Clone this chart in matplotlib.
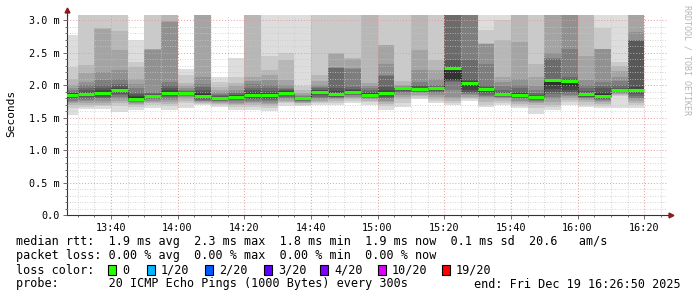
import matplotlib
matplotlib.use("Agg")
import matplotlib.pyplot as plt
from matplotlib.ticker import MultipleLocator, FixedLocator
from matplotlib.patches import Rectangle
import pandas as pd

# --- data (ms) ---
graph_end = pd.Timestamp("2025-12-19 16:26:50")
graph_start = graph_end - pd.Timedelta(hours=3)
bar_starts = pd.date_range("2025-12-19 13:25", "2025-12-19 16:15", freq="5min")
bar_minutes = 5

median_ms = [1.846, 1.857, 1.87, 1.93, 1.79, 1.83, 1.877, 1.877, 1.83, 1.80,
             1.815, 1.846, 1.846, 1.877, 1.80, 1.89, 1.866, 1.89, 1.85, 1.87,
             1.95, 1.94, 1.95, 2.26, 2.035, 1.94, 1.86, 1.846, 1.815, 2.07,
             2.06, 1.857, 1.83, 1.92, 1.93]

# 20 sorted ping rtts per 5 minute step, 3.2 = off the top of the graph
smoke_ms = [
    [1.54, 1.65, 1.70, 1.72, 1.74, 1.76, 1.78, 1.80, 1.82, 1.84, 1.86, 1.87, 1.88, 1.90, 1.92, 1.95, 2.00, 2.10, 2.28, 2.77],
    [1.63, 1.66, 1.69, 1.72, 1.75, 1.77, 1.79, 1.81, 1.83, 1.85, 1.87, 1.90, 1.93, 1.96, 2.00, 2.05, 2.18, 2.31, 3.2, 3.2],
    [1.63, 1.67, 1.70, 1.73, 1.76, 1.78, 1.80, 1.82, 1.84, 1.86, 1.89, 1.92, 1.95, 2.00, 2.08, 2.20, 2.86, 2.87, 3.2, 3.2],
    [1.59, 1.67, 1.72, 1.76, 1.79, 1.82, 1.84, 1.86, 1.89, 1.92, 1.94, 1.96, 1.99, 2.02, 2.10, 2.23, 2.54, 2.83, 3.2, 3.2],
    [1.615, 1.66, 1.69, 1.71, 1.73, 1.74, 1.75, 1.76, 1.77, 1.78, 1.81, 1.83, 1.86, 1.90, 1.96, 2.02, 2.10, 2.27, 2.36, 2.70],
    [1.65, 1.70, 1.72, 1.74, 1.76, 1.78, 1.79, 1.80, 1.81, 1.82, 1.84, 1.85, 1.86, 1.88, 1.90, 2.54, 2.55, 2.56, 3.2, 3.2],
    [1.615, 1.67, 1.71, 1.74, 1.77, 1.79, 1.81, 1.83, 1.85, 1.87, 1.89, 1.92, 1.95, 2.00, 2.05, 2.97, 2.98, 3.2, 3.2, 3.2],
    [1.65, 1.72, 1.76, 1.79, 1.81, 1.83, 1.84, 1.85, 1.86, 1.87, 1.885, 1.89, 1.90, 1.91, 1.93, 1.95, 1.98, 2.03, 2.16, 2.24],
    [1.69, 1.71, 1.72, 1.74, 1.75, 1.76, 1.77, 1.78, 1.80, 1.82, 1.86, 1.89, 1.93, 1.97, 2.02, 2.13, 3.2, 3.2, 3.2, 3.2],
    [1.66, 1.69, 1.71, 1.72, 1.74, 1.75, 1.76, 1.77, 1.78, 1.79, 1.81, 1.82, 1.83, 1.84, 1.86, 1.89, 1.92, 1.97, 2.05, 2.13],
    [1.615, 1.66, 1.69, 1.71, 1.73, 1.75, 1.77, 1.78, 1.79, 1.80, 1.82, 1.84, 1.85, 1.87, 1.90, 1.93, 1.98, 2.03, 2.13, 2.41],
    [1.615, 1.66, 1.69, 1.72, 1.74, 1.76, 1.78, 1.79, 1.81, 1.83, 1.86, 1.89, 1.92, 1.96, 2.02, 2.06, 2.13, 3.2, 3.2, 3.2],
    [1.60, 1.65, 1.68, 1.71, 1.73, 1.75, 1.77, 1.79, 1.81, 1.83, 1.86, 1.88, 1.91, 1.95, 2.00, 2.08, 2.15, 2.23, 2.44, 3.2],
    [1.68, 1.72, 1.74, 1.76, 1.78, 1.80, 1.82, 1.84, 1.86, 1.88, 1.90, 1.91, 1.92, 1.94, 1.96, 2.00, 2.08, 2.38, 2.49, 3.2],
    [1.68, 1.70, 1.72, 1.73, 1.74, 1.75, 1.76, 1.77, 1.78, 1.79, 1.795, 1.80, 1.81, 1.82, 1.83, 1.85, 1.88, 1.92, 1.98, 3.2],
    [1.69, 1.72, 1.74, 1.76, 1.78, 1.80, 1.82, 1.84, 1.86, 1.88, 1.90, 1.92, 1.93, 1.95, 1.97, 2.00, 2.06, 2.15, 3.2, 3.2],
    [1.69, 1.73, 1.76, 1.78, 1.79, 1.80, 1.81, 1.82, 1.84, 1.86, 1.88, 1.91, 1.95, 2.26, 2.265, 2.27, 2.48, 2.49, 3.2, 3.2],
    [1.72, 1.76, 1.78, 1.80, 1.82, 1.84, 1.85, 1.86, 1.87, 1.88, 1.90, 1.92, 1.94, 1.97, 2.25, 2.26, 2.40, 2.41, 3.2, 3.2],
    [1.70, 1.74, 1.76, 1.78, 1.79, 1.80, 1.81, 1.82, 1.83, 1.845, 1.865, 1.88, 1.90, 1.92, 1.95, 1.98, 2.03, 3.2, 3.2, 3.2],
    [1.615, 1.67, 1.71, 1.74, 1.76, 1.78, 1.80, 1.82, 1.84, 1.86, 1.885, 1.92, 1.97, 2.14, 2.15, 2.33, 2.61, 2.62, 3.2, 3.2],
    [1.66, 1.72, 1.78, 1.82, 1.85, 1.87, 1.89, 1.91, 1.93, 1.94, 1.945, 1.95, 1.955, 1.96, 1.97, 1.98, 2.00, 2.06, 3.2, 3.2],
    [1.78, 1.80, 1.83, 1.85, 1.87, 1.89, 1.90, 1.91, 1.92, 1.935, 1.95, 1.96, 1.98, 2.00, 2.05, 2.23, 2.54, 3.2, 3.2, 3.2],
    [1.72, 1.76, 1.79, 1.82, 1.85, 1.87, 1.89, 1.91, 1.93, 1.945, 1.955, 1.96, 1.97, 1.98, 2.00, 2.10, 2.23, 2.38, 3.2, 3.2],
    [1.69, 1.72, 1.76, 1.79, 1.82, 1.92, 2.05, 2.06, 2.07, 2.08, 2.28, 2.30, 2.38, 3.2, 3.2, 3.2, 3.2, 3.2, 3.2, 3.2],
    [1.76, 1.78, 1.80, 1.82, 1.84, 1.86, 1.88, 1.90, 1.93, 1.99, 2.045, 2.06, 2.10, 2.38, 3.2, 3.2, 3.2, 3.2, 3.2, 3.2],
    [1.66, 1.70, 1.74, 1.78, 1.81, 1.83, 1.85, 1.87, 1.90, 1.93, 1.945, 1.955, 1.97, 2.00, 2.33, 2.63, 2.635, 2.64, 2.85, 3.2],
    [1.69, 1.72, 1.76, 1.78, 1.80, 1.81, 1.82, 1.83, 1.84, 1.855, 1.87, 1.88, 1.90, 1.93, 1.98, 2.05, 2.13, 2.69, 3.0, 3.2],
    [1.64, 1.68, 1.71, 1.74, 1.76, 1.78, 1.80, 1.81, 1.82, 1.84, 1.855, 1.87, 1.90, 1.95, 2.00, 2.10, 2.66, 3.2, 3.2, 3.2],
    [1.56, 1.64, 1.69, 1.72, 1.74, 1.76, 1.77, 1.78, 1.79, 1.80, 1.82, 1.83, 1.85, 1.88, 1.93, 1.98, 2.12, 2.33, 3.2, 3.2],
    [1.615, 1.66, 1.70, 1.74, 1.78, 1.82, 1.86, 1.90, 1.94, 2.00, 2.075, 2.08, 2.10, 2.405, 2.41, 2.49, 3.2, 3.2, 3.2, 3.2],
    [1.69, 1.74, 1.77, 1.80, 1.83, 1.85, 1.87, 1.90, 1.93, 1.98, 2.065, 2.07, 2.09, 2.13, 2.56, 3.2, 3.2, 3.2, 3.2, 3.2],
    [1.66, 1.70, 1.74, 1.77, 1.79, 1.80, 1.81, 1.82, 1.83, 1.845, 1.865, 1.88, 1.91, 1.95, 2.00, 2.08, 2.44, 3.2, 3.2, 3.2],
    [1.64, 1.68, 1.71, 1.74, 1.76, 1.77, 1.78, 1.79, 1.80, 1.82, 1.86, 1.90, 1.95, 1.99, 2.05, 2.55, 2.555, 2.56, 2.87, 3.2],
    [1.64, 1.83, 1.85, 1.86, 1.87, 1.88, 1.89, 1.90, 1.905, 1.91, 1.925, 1.94, 1.96, 2.00, 2.06, 2.12, 2.22, 2.30, 2.36, 3.2],
    [1.64, 1.69, 1.73, 1.76, 1.78, 1.80, 1.83, 1.86, 1.89, 1.92, 1.94, 1.97, 2.68, 2.685, 2.69, 2.82, 3.2, 3.2, 3.2, 3.2],
]

loss_labels = ["0", "1/20", "2/20", "3/20", "4/20", "10/20", "19/20"]
loss_colors = ["#26ff00", "#00b8ff", "#0059ff", "#5e00ff", "#7e00ff", "#dd00ff", "#ff0000"]

stats_line = "median rtt:  1.9 ms avg  2.3 ms max  1.8 ms min  1.9 ms now  0.1 ms sd  20.6   am/s"
loss_line = "packet loss: 0.00 % avg  0.00 % max  0.00 % min  0.00 % now"
probe_line = "probe:       20 ICMP Echo Pings (1000 Bytes) every 300s"
end_line = "end: Fri Dec 19 16:26:50 2025"

# --- figure ---
W, H = 697, 297
mono = "DejaVu Sans Mono"
fig = plt.figure(figsize=(W / 100, H / 100), dpi=100, facecolor="white")
left, right, bottom, top = 67, 667, 215, 14.5
ax = fig.add_axes([left / W, 1 - bottom / H, (right - left) / W, (bottom - top) / H])
ax.set_facecolor("white")


def minutes(t):
    return (t - graph_start).total_seconds() / 60.0


xs = [minutes(t) for t in bar_starts]

# smoke: pairs of pings outside-in, darker towards the middle
half = 10
for i in range(1, half + 1):
    level = int(190 / half * (half - i)) + 50
    col = "#%02x%02x%02x" % (level, level, level)
    lo = [p[i - 1] for p in smoke_ms]
    hi = [p[20 - i] for p in smoke_ms]
    ax.bar(xs, [h - l for h, l in zip(hi, lo)], bottom=lo, width=bar_minutes,
           align="edge", color=col, linewidth=0, zorder=1)

# median line
step_x = xs + [xs[-1] + bar_minutes]
step_y = median_ms + [median_ms[-1]]
ax.step(step_x, step_y, where="post", color="black", lw=0.6, ls=(0, (1, 1)), zorder=3)
ax.hlines(median_ms, xs, [x + bar_minutes for x in xs], color=loss_colors[0], lw=2.2, zorder=4)

ax.set_xlim(0, 180)
ax.set_ylim(0, 3.085)

major_times = pd.date_range("2025-12-19 13:40", "2025-12-19 16:20", freq="20min")
minor_times = pd.date_range("2025-12-19 13:30", "2025-12-19 16:25", freq="5min")
ax.xaxis.set_major_locator(FixedLocator([minutes(t) for t in major_times]))
ax.xaxis.set_minor_locator(FixedLocator([minutes(t) for t in minor_times]))
ax.set_xticklabels([t.strftime("%H:%M") for t in major_times])

ax.yaxis.set_major_locator(MultipleLocator(0.5))
ax.yaxis.set_minor_locator(MultipleLocator(0.1))
yt = [0, 0.5, 1.0, 1.5, 2.0, 2.5, 3.0]
ax.set_yticks(yt)
ax.set_yticklabels(["0.0"] + ["%.1f m" % v for v in yt[1:]])

ax.set_axisbelow(False)
ax.grid(which="minor", color="#c8c8c8", ls=(0, (1, 2)), lw=0.6)
ax.grid(which="major", color="#e89a9a", ls=(0, (1, 2)), lw=0.7)

ax.tick_params(which="both", direction="out", colors="#555555", labelcolor="black",
               labelsize=7.3, width=0.6)
ax.tick_params(which="major", length=3, pad=2.5)
ax.tick_params(which="minor", length=1.5)
for lab in ax.get_xticklabels() + ax.get_yticklabels():
    lab.set_family(mono)

for s in ("top", "right"):
    ax.spines[s].set_visible(False)
for s in ("left", "bottom"):
    ax.spines[s].set_color("#333333")
    ax.spines[s].set_linewidth(0.8)

# axis arrows
arrow_col = "#8b1a1a"
ax.plot([1.0, 1.006], [0, 0], transform=ax.transAxes, color="#333333", lw=0.8, clip_on=False)
ax.plot([1.006], [0], transform=ax.transAxes, marker=">", ms=3.5, color=arrow_col, clip_on=False)
ax.plot([0, 0], [1.0, 1.02], transform=ax.transAxes, color="#333333", lw=0.8, clip_on=False)
ax.plot([0], [1.02], transform=ax.transAxes, marker="^", ms=3.5, color=arrow_col, clip_on=False)

fig.text(11 / W, 1 - 113 / H, "Seconds", rotation=90, ha="center", va="center",
         family=mono, fontsize=8)
fig.text(687 / W, 1 - 5 / H, "RRDTOOL / TOBI OETIKER", rotation=270, ha="center", va="top",
         family=mono, fontsize=6, color="#b5b5b5")

# legend block
fs = 8.5
fig.text(16 / W, 1 - 241 / H, stats_line, family=mono, fontsize=fs, va="center")
fig.text(16 / W, 1 - 256 / H, loss_line, family=mono, fontsize=fs, va="center")
fig.text(16 / W, 1 - 270 / H, "loss color:", family=mono, fontsize=fs, va="center")
fig.text(16 / W, 1 - 284 / H, probe_line, family=mono, fontsize=fs, va="center")
fig.text(681 / W, 1 - 284 / H, end_line, family=mono, fontsize=fs, va="center", ha="right")

box_x = [108, 147, 205, 264, 320, 378, 442]
for bx, lab, col in zip(box_x, loss_labels, loss_colors):
    fig.patches.append(Rectangle((bx / W, 1 - 275 / H), 8 / W, 10 / H, transform=fig.transFigure,
                                 facecolor=col, edgecolor="black", lw=0.8))
    fig.text((bx + 14) / W, 1 - 270 / H, lab, family=mono, fontsize=fs, va="center")

fig.savefig("out.png", dpi=100, facecolor="white")
